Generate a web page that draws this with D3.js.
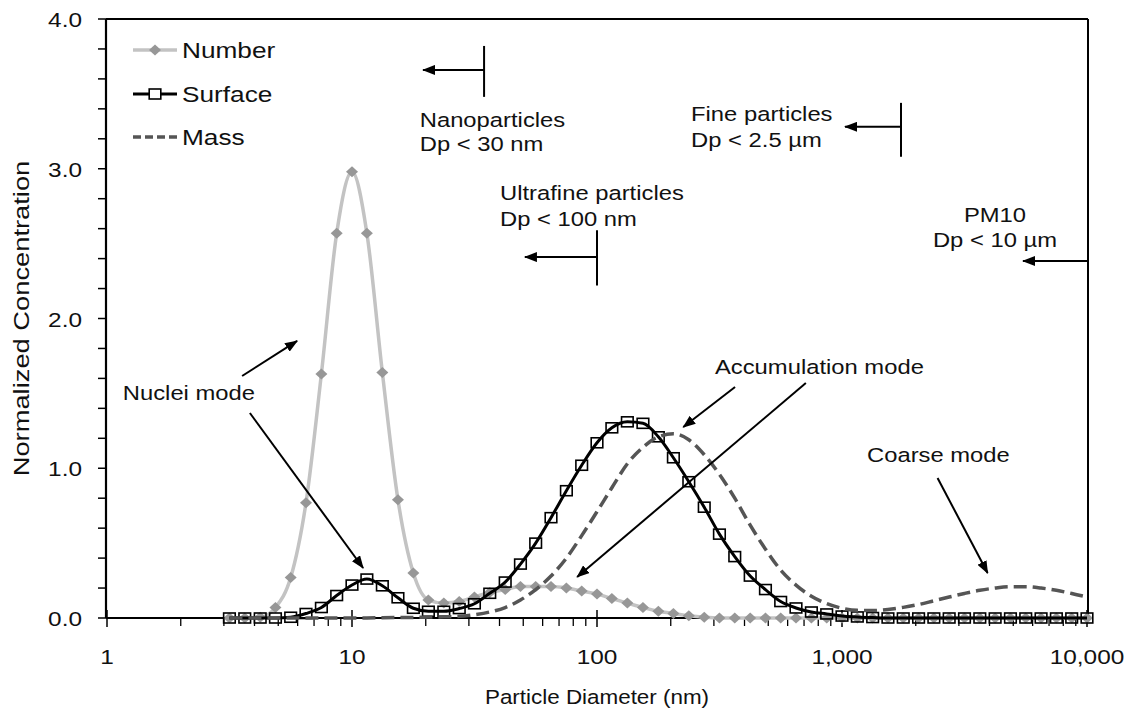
<!DOCTYPE html>
<html>
<head>
<meta charset="utf-8">
<script src="https://cdn.jsdelivr.net/npm/d3@7"></script>
<style>
body{margin:0;background:#fff;}
svg{display:block;font-family:"Liberation Sans",Arial,sans-serif;}
</style>
</head>
<body>
<div id="chart"></div>
<script>
// particle diameters (nm), one point every 1/16 decade
const diameters = [3.16,3.65,4.22,4.87,5.62,6.49,7.50,8.66,10.0,11.5,13.3,15.4,17.8,20.5,23.7,27.4,
  31.6,36.5,42.2,48.7,56.2,64.9,75.0,86.6,100,115,133,154,178,205,237,274,
  316,365,422,487,562,649,750,866,1000,1155,1334,1540,1778,2054,2371,2738,
  3162,3652,4217,4870,5623,6494,7499,8660,10000];

const numberConc = [0,0,0.005,0.07,0.27,0.77,1.63,2.57,2.98,2.57,1.64,0.79,0.30,0.12,0.10,0.11,
  0.14,0.17,0.19,0.21,0.21,0.21,0.20,0.18,0.16,0.13,0.10,0.07,0.045,0.03,0.015,0.005,
  0,0,0,0,0,0,0,0,0,0,0,0,0,0,0,0,
  0,0,0,0,0,0,0,0,0];

const surfaceConc = [0,0,0,0,0.005,0.03,0.07,0.15,0.22,0.26,0.215,0.135,0.065,0.045,0.045,0.063,
  0.095,0.165,0.24,0.36,0.50,0.67,0.85,1.02,1.17,1.27,1.31,1.30,1.21,1.07,0.91,0.74,
  0.56,0.41,0.28,0.19,0.11,0.067,0.04,0.027,0.013,0.007,0.003,0,0,0,0,0,
  0,0,0,0,0,0,0,0,0];

const massConc = [0,0,0,0,0,0,0,0,0,0,0.002,0.003,0.004,0.006,0.008,0.011,
  0.022,0.04,0.07,0.12,0.19,0.28,0.40,0.55,0.71,0.87,1.03,1.14,1.21,1.23,1.19,1.09,
  0.96,0.80,0.62,0.46,0.32,0.22,0.145,0.096,0.065,0.051,0.05,0.057,0.071,0.09,0.115,0.14,
  0.164,0.185,0.20,0.209,0.209,0.20,0.185,0.164,0.14];

const seriesNames = ["Number","Surface","Mass"];
const xTickValues = [1,10,100,1000,10000];
const yTickValues = [0,1,2,3,4];

// size class limits: bar at diameter, arrow pointing left, two line label
const sizeClasses = [
  {lines:["Nanoparticles","Dp < 30 nm"], at:34.6, bar:[3.82,3.48], arrowY:3.66, arrowTo:19.5, tx:18.9, ty:[3.28,3.12], anchor:"start"},
  {lines:["Ultrafine particles","Dp < 100 nm"], at:100, bar:[2.59,2.22], arrowY:2.41, arrowTo:50.8, tx:40.2, ty:[2.79,2.62], anchor:"start"},
  {lines:["Fine particles","Dp < 2.5 µm"], at:1741, bar:[3.44,3.08], arrowY:3.28, arrowTo:1029, tx:242, ty:[3.32,3.145], anchor:"start"},
  {lines:["PM10","Dp < 10 µm"], at:10000, bar:null, arrowY:2.384, arrowTo:5480, tx:4210, ty:[2.645,2.48], anchor:"middle"}
];

// mode labels with their arrows [from, to] in (nm, concentration)
const modeLabels = [
  {text:"Nuclei mode", tx:1.16, ty:1.456, arrows:[[[3.56,1.616],[5.97,1.85]],[[3.83,1.369],[11.1,0.334]]]},
  {text:"Accumulation mode", tx:303, ty:1.63, arrows:[[[366,1.543],[225,1.275]],[[712,1.569],[83,0.274]]]},
  {text:"Coarse mode", tx:1265, ty:1.042, arrows:[[[2455,0.935],[3930,0.30]]]}
];

const W = 1137, H = 719;
const SX = 1.22; // the reference text is a little wide
const mLeft = 107, mRight = 1087, mTop = 19, mBottom = 618;

const svg = d3.select("#chart").append("svg").attr("width",W).attr("height",H);

const x = d3.scaleLog().domain([1,10000]).range([mLeft,mRight]);
const y = d3.scaleLinear().domain([0,4]).range([mBottom,mTop]);

function addText(parent, px, py, str, size, anchor, stretch){
  const g = parent.append("g")
    .attr("transform", `translate(${px},${py}) scale(${stretch||SX},1)`);
  return g.append("text").attr("text-anchor",anchor||"start")
    .style("font-size",size+"px").attr("fill","#111").text(str);
}

const defs = svg.append("defs");
defs.append("marker").attr("id","head")
  .attr("markerUnits","userSpaceOnUse").attr("markerWidth",14).attr("markerHeight",10)
  .attr("refX",12).attr("refY",5).attr("orient","auto")
  .append("path").attr("d","M0,0 L13,5 L0,10 Z").attr("fill","#000");

// frame and axes
const axes = svg.append("g").attr("stroke","#000");
axes.append("line").attr("x1",mLeft-1).attr("x2",mLeft-1).attr("y1",mTop).attr("y2",mBottom).attr("stroke-width",2.2);
axes.append("line").attr("x1",mLeft-1).attr("x2",mRight+1).attr("y1",mTop).attr("y2",mTop).attr("stroke-width",2);
axes.append("line").attr("x1",mRight+1).attr("x2",mRight+1).attr("y1",mTop).attr("y2",mBottom).attr("stroke-width",2);
axes.append("line").attr("x1",mLeft-1).attr("x2",mRight+1).attr("y1",mBottom).attr("y2",mBottom).attr("stroke-width",2);

// y ticks every 0.2
axes.selectAll(".ytick").data(d3.range(0,4.01,0.2)).enter().append("line")
  .attr("x1",mLeft-9).attr("x2",mLeft-1).attr("y1",d=>y(d)).attr("y2",d=>y(d)).attr("stroke-width",1.5);
// x ticks: decades cross the axis, minors hang below
axes.selectAll(".xminor").data(x.ticks().filter(d=>xTickValues.indexOf(d)<0)).enter().append("line")
  .attr("x1",d=>x(d)).attr("x2",d=>x(d)).attr("y1",mBottom).attr("y2",mBottom+8).attr("stroke-width",1.3);
axes.selectAll(".xmajor").data(xTickValues).enter().append("line")
  .attr("x1",d=>x(d)).attr("x2",d=>x(d)).attr("y1",mBottom-8).attr("y2",mBottom+9).attr("stroke-width",1.5);

yTickValues.forEach(v => addText(svg, 82, y(v)+8, d3.format(".1f")(v), 20, "end"));
xTickValues.forEach(v => addText(svg, x(v), 664, d3.format(",")(v), 20, "middle"));
addText(svg, (mLeft+mRight)/2, 704, "Particle Diameter (nm)", 19.5, "middle", 1.15);
// y title: rotated, longer along its run than the other texts
svg.append("g").attr("transform",`translate(29,${(mTop+mBottom)/2}) rotate(-90) scale(1.4,1.12)`)
  .append("text").attr("text-anchor","middle").style("font-size","19.5px").attr("fill","#111")
  .text("Normalized Concentration");

// series
const line = d3.line().x(d=>x(d[0])).y(d=>y(d[1])).curve(d3.curveMonotoneX);
const numberPts = diameters.map((d,i)=>[d,numberConc[i]]);
const surfacePts = diameters.map((d,i)=>[d,surfaceConc[i]]);
const massPts = diameters.map((d,i)=>[d,massConc[i]]);

const plot = svg.append("g");
plot.append("path").attr("d",line(numberPts)).attr("fill","none").attr("stroke","#c3c3c3").attr("stroke-width",3.5);
plot.selectAll(".diamond").data(numberPts).enter().append("path")
  .attr("d","M0,-5.5 L6,0 L0,5.5 L-6,0 Z")
  .attr("transform",d=>`translate(${x(d[0])},${y(d[1])})`).attr("fill","#979797");

plot.append("path").attr("d",line(surfacePts)).attr("fill","none").attr("stroke","#000").attr("stroke-width",3);
plot.selectAll(".square").data(surfacePts).enter().append("rect")
  .attr("x",d=>x(d[0])-5.8).attr("y",d=>y(d[1])-5).attr("width",11.6).attr("height",10)
  .attr("fill","none").attr("stroke","#000").attr("stroke-width",1.6);

plot.append("path").attr("d",line(massPts)).attr("fill","none").attr("stroke","#555")
  .attr("stroke-width",3.5).attr("stroke-dasharray","13,6");

// legend
const legend = svg.append("g");
const legY = [50,94,137];
seriesNames.forEach((name,i) => {
  const ly = legY[i];
  const ln = legend.append("line").attr("x1",133).attr("x2",177).attr("y1",ly).attr("y2",ly);
  if (i===0) {
    ln.attr("stroke","#c3c3c3").attr("stroke-width",3.5);
    legend.append("path").attr("d","M0,-5.5 L6,0 L0,5.5 L-6,0 Z").attr("transform",`translate(155,${ly})`).attr("fill","#979797");
  } else if (i===1) {
    ln.attr("stroke","#000").attr("stroke-width",3);
    legend.append("rect").attr("x",149.2).attr("y",ly-5).attr("width",11.6).attr("height",10)
      .attr("fill","#fff").attr("stroke","#000").attr("stroke-width",1.6);
  } else {
    ln.attr("stroke","#555").attr("stroke-width",3.5).attr("stroke-dasharray","8,4");
  }
  addText(legend, 182, ly+8, name, 21.5, "start");
});

// annotations
const notes = svg.append("g");
sizeClasses.forEach(c => {
  if (c.bar) notes.append("line").attr("x1",x(c.at)).attr("x2",x(c.at)).attr("y1",y(c.bar[0])).attr("y2",y(c.bar[1]))
    .attr("stroke","#000").attr("stroke-width",2);
  notes.append("line").attr("x1",x(c.at)).attr("x2",x(c.arrowTo)).attr("y1",y(c.arrowY)).attr("y2",y(c.arrowY))
    .attr("stroke","#000").attr("stroke-width",2).attr("marker-end","url(#head)");
  c.lines.forEach((t,k) => addText(notes, x(c.tx), y(c.ty[k]), t, 19.5, c.anchor));
});
modeLabels.forEach(m => {
  addText(notes, x(m.tx), y(m.ty), m.text, 19.5, "start");
  m.arrows.forEach(a => {
    notes.append("line").attr("x1",x(a[0][0])).attr("y1",y(a[0][1])).attr("x2",x(a[1][0])).attr("y2",y(a[1][1]))
      .attr("stroke","#000").attr("stroke-width",2).attr("marker-end","url(#head)");
  });
});
</script>
</body>
</html>
